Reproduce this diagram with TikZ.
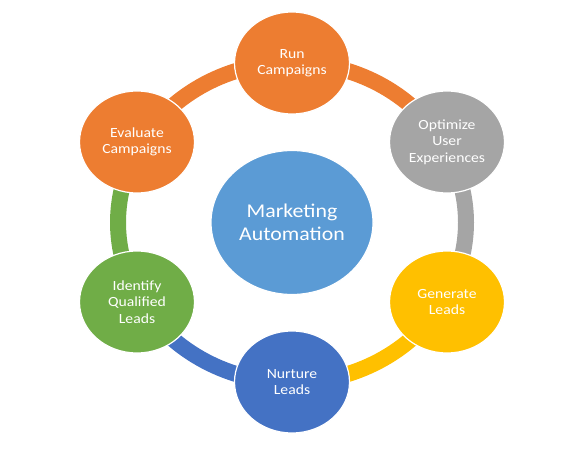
\documentclass[tikz,border=0pt]{standalone}
\usepackage{fontspec}
\setmainfont{Carlito}[FakeStretch=1.12]
\usetikzlibrary{shapes.geometric}
\definecolor{mOrange}{HTML}{ED7D31}
\definecolor{mGray}{HTML}{A5A5A5}
\definecolor{mGold}{HTML}{FFC000}
\definecolor{mBlue}{HTML}{4472C4}
\definecolor{mGreen}{HTML}{70AD47}
\definecolor{mSky}{HTML}{5B9BD5}
\begin{document}
\begin{tikzpicture}[
			x=1pt, y=1pt,
			stage/.style = {ellipse, draw=white, line width=1.2pt, text=white,
					minimum width=115pt, minimum height=102pt, inner sep=0pt, align=center,
					font=\fontsize{14}{16.5}\selectfont},
			hub/.style = {ellipse, draw=white, line width=1.2pt, fill=mSky, text=white,
					minimum width=162pt, minimum height=144pt, inner sep=0pt, align=center,
					font=\fontsize{19.5}{23}\selectfont},
			ring/.style = {line width=16pt},
		]
		\path[use as bounding box] (0,0) rectangle (585,450);
		\coordinate (C) at (292,227.5);
		% ring segments
		\draw[ring, mOrange] (C) ++(150:174pt and 160pt) arc[start angle=150, end angle=90, x radius=174pt, y radius=160pt];
		\draw[ring, mOrange] (C) ++(90:174pt and 160pt) arc[start angle=90, end angle=30, x radius=174pt, y radius=160pt];
		\draw[ring, mGray] (C) ++(30:174pt and 160pt) arc[start angle=30, end angle=-30, x radius=174pt, y radius=160pt];
		\draw[ring, mGold] (C) ++(-30:174pt and 160pt) arc[start angle=-30, end angle=-90, x radius=174pt, y radius=160pt];
		\draw[ring, mBlue] (C) ++(-90:174pt and 160pt) arc[start angle=-90, end angle=-150, x radius=174pt, y radius=160pt];
		\draw[ring, mGreen] (C) ++(-150:174pt and 160pt) arc[start angle=-150, end angle=-210, x radius=174pt, y radius=160pt];
		% circles
		\node[hub] (auto) at (292,227.5) {Marketing\\Automation};
		\node[stage, fill=mOrange] (run) at (292,387) {Run\\Campaigns};
		\node[stage, fill=mGray] (optimize) at (447,308) {Optimize\\User\\Experiences};
		\node[stage, fill=mGold] (generate) at (447,148) {Generate\\Leads};
		\node[stage, fill=mBlue] (nurture) at (292,68) {Nurture\\Leads};
		\node[stage, fill=mGreen] (identify) at (137,148) {Identify\\Qualified\\Leads};
		\node[stage, fill=mOrange] (evaluate) at (137,308) {Evaluate\\Campaigns};
	\end{tikzpicture}
\end{document}
